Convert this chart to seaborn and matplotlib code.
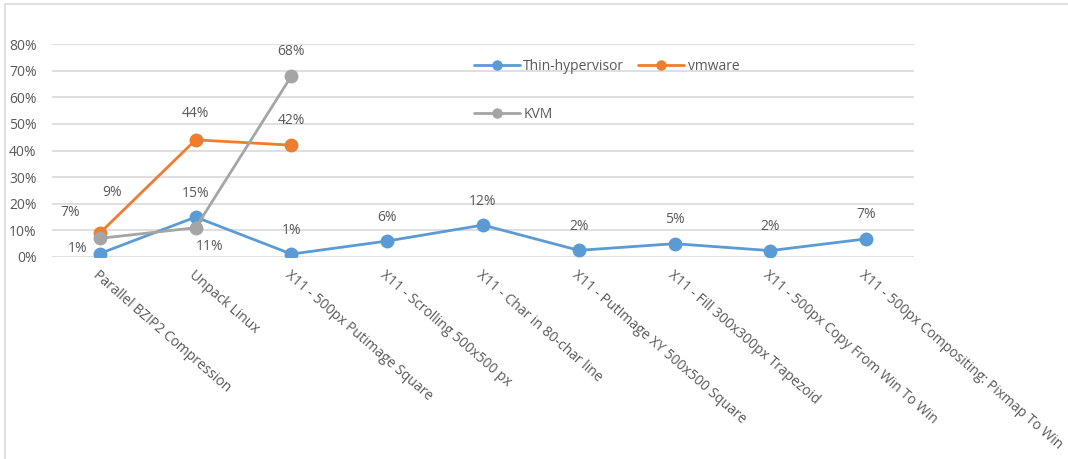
import pandas as pd
import seaborn as sns
import matplotlib.pyplot as plt
import matplotlib.ticker as mticker
from matplotlib.patches import Rectangle

# %%
categories = [
    'Parallel BZIP2 Compression',
    'Unpack Linux',
    'X11 - 500px Putimage Square',
    'X11 - Scrolling 500x500 px',
    'X11 - Char in 80-char line',
    'X11 - PutImage XY 500x500 Square',
    'X11 - Fill 300x300px Trapezoid',
    'X11 - 500px Copy From Win To Win',
    'X11 - 500px Compositing: Pixmap To Win',
]
thin_hypervisor = [0.013, 0.15, 0.011, 0.06, 0.12, 0.025, 0.05, 0.024, 0.068]
vmware = [0.09, 0.44, 0.42]
kvm = [0.07, 0.11, 0.68]
thin_labels = ['1%', '15%', '1%', '6%', '12%', '2%', '5%', '2%', '7%']
vmware_labels = ['9%', '44%', '42%']
kvm_labels = ['7%', '11%', '68%']
y_ticks = [0, 0.1, 0.2, 0.3, 0.4, 0.5, 0.6, 0.7, 0.8]

# long-form table for seaborn
rows = []
for name, vals in [('Thin-hypervisor', thin_hypervisor), ('vmware', vmware), ('KVM', kvm)]:
    for i, v in enumerate(vals):
        rows.append({'x': i, 'value': v, 'series': name})
df = pd.DataFrame(rows)

palette = {
    'Thin-hypervisor': '#5B9BD5',
    'vmware': '#ED7D31',
    'KVM': '#A5A5A5',
}
text_color = '#595959'
grid_color = '#D9D9D9'

# %%
sns.set_style('white')
plt.rcParams['font.family'] = ['Open Sans', 'DejaVu Sans']

fig = plt.figure(figsize=(10.68, 4.59), dpi=100)
ax = fig.add_axes([52 / 1068, 1 - 257 / 459, (914 - 52) / 1068, (257 - 44) / 459])

# chart border (left and top, the rest is cut off)
fig.patches.append(Rectangle(
    (5 / 1068, -0.1), 1.2, 1 - 4 / 459 + 0.1,
    transform=fig.transFigure, fill=False, edgecolor=grid_color, linewidth=1.2
))

sns.lineplot(
    data=df
    , x='x'
    , y='value'
    , hue='series'
    , hue_order=['Thin-hypervisor', 'vmware', 'KVM']
    , palette=palette
    , marker='o'
    , markersize=10
    , markeredgewidth=0
    , linewidth=2
    , ax=ax
)

# Data labels (offsets in pixels: dx, dy-up)
label_offsets = {
    'Thin-hypervisor': [(-22, 5)] + [(0, 24)] * 8,
    'vmware': [(12, 41), (0, 26), (0, 25)],
    'KVM': [(-30, 26), (14, -19), (0, 24)],
}
for name, vals, labels in [('Thin-hypervisor', thin_hypervisor, thin_labels),
                           ('vmware', vmware, vmware_labels),
                           ('KVM', kvm, kvm_labels)]:
    for i, (v, lab) in enumerate(zip(vals, labels)):
        dx, dy = label_offsets[name][i]
        ax.annotate(
            lab, (i, v), xytext=(dx * 0.72, dy * 0.72), textcoords='offset points'
            , ha='center', va='center', fontsize=10, color=text_color
        )

ax.set_ylim(0, 0.8)
ax.set_xlim(-0.5, len(categories) - 0.5)
ax.set_yticks(y_ticks)
ax.yaxis.set_major_formatter(mticker.PercentFormatter(1.0, decimals=0))
ax.set_xticks(range(len(categories)))
ax.set_xticklabels(categories, rotation=-41, ha='left', va='top', rotation_mode='anchor')
ax.tick_params(axis='x', length=0, pad=8, labelsize=10, labelcolor=text_color)
ax.tick_params(axis='y', length=0, pad=11, labelsize=10, labelcolor=text_color)
ax.grid(axis='y', color=grid_color, linewidth=1.2)
ax.set_axisbelow(True)
for s in ax.spines.values():
    s.set_visible(False)
ax.set_xlabel('')
ax.set_ylabel('')

# legend laid out row-wise: Thin-hypervisor, vmware / KVM
handles, labels = ax.get_legend_handles_labels()
order = [0, 2, 1]
ax.legend(
    [handles[i] for i in order], [labels[i] for i in order]
    , ncol=2, frameon=False, loc='upper left'
    , bbox_to_anchor=(474 / 1068, 1 - 59 / 459), bbox_transform=fig.transFigure
    , borderpad=0, borderaxespad=0, handlelength=3.3, handletextpad=0.25
    , labelspacing=2.4, columnspacing=1.0, fontsize=10, labelcolor=text_color
    , markerscale=0.75
)

fig.savefig('out.png', dpi=100)
